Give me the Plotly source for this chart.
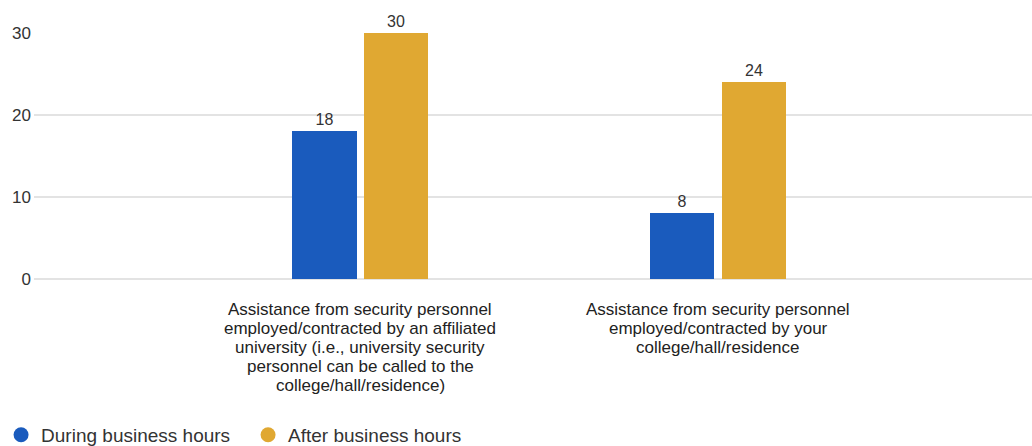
import plotly.graph_objects as go

categories = [
    "Assistance from security personnel<br>employed/contracted by an affiliated<br>university (i.e., university security<br>personnel can be called to the<br>college/hall/residence)",
    "Assistance from security personnel<br>employed/contracted by your<br>college/hall/residence",
]
during_hours = [18, 8]
after_hours = [30, 24]
series_names = ["During business hours", "After business hours"]
colors = ["#1a5bbd", "#e0a832"]
y_ticks = [0, 10, 20, 30]

x_pos = list(range(len(categories)))
font_family = "Liberation Sans, Arial, sans-serif"
grid_color = "#e3e3e3"

fig = go.Figure()
for vals, name, color, off in [
    (during_hours, series_names[0], colors[0], -0.19),
    (after_hours, series_names[1], colors[1], 0.01),
]:
    fig.add_trace(go.Bar(
        x=x_pos, y=vals, name=name, marker=dict(color=color, line=dict(width=0)),
        width=0.18, offset=off, text=[str(v) for v in vals], textposition="outside",
        textfont=dict(size=16, color="#333333", family=font_family),
        cliponaxis=False, showlegend=False, hoverinfo="x+y",
    ))
    # circular legend symbols
    fig.add_trace(go.Scatter(
        x=[None], y=[None], mode="markers", name=name,
        marker=dict(symbol="circle", size=15, color=color),
    ))

# category labels, one line at a time for tight line spacing
line_step = 19
for xp, label in zip(x_pos, categories):
    for i, line in enumerate(label.split("<br>")):
        fig.add_annotation(
            x=xp, xref="x", y=0, yref="paper", yanchor="top",
            yshift=-(19 + i * line_step), text=line, showarrow=False,
            font=dict(size=17, color="#222222", family=font_family),
        )

fig.update_layout(
    width=1032, height=446,
    margin=dict(l=34, r=0, t=33, b=167, autoexpand=False),
    paper_bgcolor="white", plot_bgcolor="white",
    font=dict(family=font_family, color="#333333"),
    xaxis=dict(
        tickvals=x_pos, showticklabels=False, automargin=False,
        range=[-0.911, 1.877], showgrid=False, zeroline=False,
        showline=False, ticks="",
    ),
    yaxis=dict(
        range=[0, 30], tickvals=y_ticks, showgrid=True, gridcolor=grid_color,
        gridwidth=2, zeroline=True, zerolinecolor=grid_color, zerolinewidth=2,
        showline=False, ticks="", automargin=False,
        tickfont=dict(size=17, color="#333333"), ticklabelstandoff=2,
    ),
    legend=dict(
        orientation="h", x=-0.033, xanchor="left", y=-0.634, yanchor="middle",
        font=dict(size=19, color="#333333"), itemsizing="trace",
        itemwidth=30, tracegroupgap=0, entrywidth=202, entrywidthmode="pixels",
    ),
    bargap=0,
)

fig.write_html("out.html")
